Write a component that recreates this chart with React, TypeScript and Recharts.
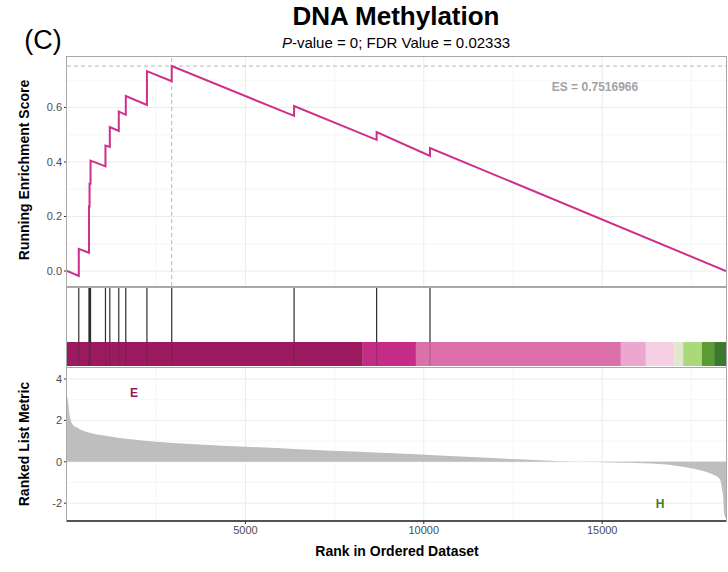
import {
  Area,
  AreaChart,
  CartesianGrid,
  ComposedChart,
  Line,
  LineChart,
  ReferenceArea,
  ReferenceLine,
  XAxis,
  YAxis,
} from "recharts";

const RANK_MAX = 18470;
const PEAK_RANK = 2935;
const ES_MAX = 0.7516966;

// gene-set hits in the ranked list, with running ES just before / after each hit
const hitRanks = [330, 616, 632, 660, 1078, 1200, 1451, 1648, 2240, 2935, 6364, 8678, 10174];
const esBeforeHit = [-0.018, 0.067, 0.237, 0.32, 0.384, 0.455, 0.514, 0.573, 0.609, 0.696, 0.569, 0.481, 0.422];
const esAfterHit = [0.081, 0.237, 0.32, 0.405, 0.46, 0.528, 0.585, 0.642, 0.733, 0.7517, 0.605, 0.51, 0.451];

// ranked list metric
const metricRanks = [
  1, 30, 80, 175, 260, 406, 540, 780, 910, 1250, 1714, 2500, 3711, 5020, 6513, 8000, 9314, 10300,
  11182, 12488, 13795, 14900, 15700, 16596, 17157, 17530, 17905, 18137, 18277, 18352, 18389, 18417, 18470,
];
const metricValues = [
  3.2, 2.9, 2.17, 1.77, 1.68, 1.53, 1.45, 1.34, 1.3, 1.21, 1.1, 0.97, 0.84, 0.73, 0.61, 0.5, 0.4, 0.32,
  0.24, 0.13, 0.03, -0.01, -0.05, -0.11, -0.21, -0.32, -0.48, -0.64, -0.8, -1.2, -1.69, -2.48, -2.75,
];

// colour band under the hits
const bandFrom = [0, 8290, 9780, 15524, 16224, 17017, 17269, 17792, 18137];
const bandTo = [8290, 9780, 15524, 16224, 17017, 17269, 17792, 18137, 18470];
const BAND_COLORS = ["#9B1A60", "#C42C86", "#DB70AA", "#EBA7CE", "#F7CFE5", "#E2E7CD", "#AAD87B", "#5C9A33", "#3B7A2C"];

const rankTicks = [5000, 10000, 15000];
const rankMinor = [2500, 7500, 12500, 17500];
const esTicks = [0, 0.2, 0.4, 0.6];
const esMinor = [0.1, 0.3, 0.5, 0.7];
const metricTicks = [-2, 0, 2, 4];
const metricMinor = [-1, 1, 3];

const esPoints = [{ rank: 0, es: 0 }];
hitRanks.forEach((r, i) => {
  esPoints.push({ rank: r, es: esBeforeHit[i] }, { rank: r, es: esAfterHit[i] });
});
esPoints.push({ rank: RANK_MAX, es: 0 });

const metricPoints = metricRanks.map((r, i) => ({ rank: r, metric: metricValues[i] }));
const hitPoints = [{ rank: 0, top: 1 }, ...hitRanks.map((r) => ({ rank: r, top: 1 })), { rank: RANK_MAX, top: 0 }];

const FONT = '"Liberation Sans", Arial, sans-serif';
const TICK = { fontSize: 11, fill: "#4D4D4D" };
const LINE_PINK = "#CF2F8B";

function Label({ x, y, size, bold = true, color = "#000", rotate = false, children }: any) {
  return (
    <div
      style={{
        position: "absolute",
        left: x - 200,
        top: y - 12,
        width: 400,
        height: 24,
        lineHeight: "24px",
        textAlign: "center",
        fontSize: size,
        fontWeight: bold ? 700 : 400,
        color,
        whiteSpace: "nowrap",
        transform: rotate ? "rotate(-90deg)" : undefined,
      }}
    >
      {children}
    </div>
  );
}

function Box({ left, top, width, height, noBottom = false }: any) {
  return (
    <div
      style={{
        position: "absolute",
        left,
        top,
        width,
        height,
        boxSizing: "border-box",
        border: "1px solid #A8A8A8",
        borderBottom: noBottom ? "none" : "1px solid #A8A8A8",
        pointerEvents: "none",
      }}
    />
  );
}

export default function App() {
  return (
    <div style={{ position: "absolute", left: 0, top: 0, width: 728, height: 572, background: "#fff", fontFamily: FONT }}>
      <Label x={396} y={16} size={26}>DNA Methylation</Label>
      <Label x={396} y={43} size={15} bold={false}>
        <i>P</i>-value = 0; FDR Value = 0.02333
      </Label>
      <Label x={43} y={40} size={27} bold={false}>(C)</Label>

      {/* running enrichment score */}
      <div style={{ position: "absolute", left: 0, top: 0 }}>
        <LineChart width={728} height={287} data={esPoints} margin={{ top: 57, right: 2, bottom: 1, left: 0 }}>
          <CartesianGrid stroke="#F1F1F1" strokeWidth={0.7} horizontalValues={esMinor} verticalValues={rankMinor} />
          <CartesianGrid stroke="#EBEBEB" strokeWidth={1} horizontalValues={esTicks} verticalValues={rankTicks} />
          <XAxis type="number" dataKey="rank" domain={[0, RANK_MAX]} hide allowDataOverflow />
          <YAxis
            type="number"
            domain={[-0.055, 0.785]}
            ticks={esTicks}
            width={67}
            allowDataOverflow
            tickFormatter={(v) => v.toFixed(1)}
            tick={TICK}
            tickSize={3}
            axisLine={false}
            tickLine={{ stroke: "#333" }}
          />
          <ReferenceLine y={ES_MAX} stroke="#B5B5B5" strokeDasharray="4 3" />
          <ReferenceLine x={PEAK_RANK} stroke="#B5B5B5" strokeDasharray="4 3" />
          <Line dataKey="es" type="linear" stroke={LINE_PINK} strokeWidth={2} dot={false} isAnimationActive={false} />
        </LineChart>
      </div>
      <Box left={66} top={56} width={661} height={231} />
      <Label x={595} y={87} size={12} color="#A3A3A3">ES = 0.7516966</Label>
      <Label x={24} y={170} size={14} rotate>Running Enrichment Score</Label>

      {/* hits + colour band */}
      <div style={{ position: "absolute", left: 0, top: 287 }}>
        <ComposedChart width={728} height={80} data={hitPoints} margin={{ top: 1, right: 2, bottom: 0, left: 67 }}>
          <XAxis type="number" dataKey="rank" domain={[0, RANK_MAX]} hide allowDataOverflow />
          <YAxis type="number" domain={[0, 1]} hide allowDataOverflow />
          {bandFrom.map((b, i) => (
            <ReferenceArea
              key={"b" + i}
              x1={b}
              x2={bandTo[i]}
              y1={0.013}
              y2={0.316}
              fill={BAND_COLORS[i]}
              fillOpacity={1}
              stroke="none"
              ifOverflow="visible"
            />
          ))}
          {hitRanks.map((r) => (
            <ReferenceLine
              key={"h" + r}
              segment={[{ x: r, y: 0.316 }, { x: r, y: 1 }]}
              stroke="#2E2E2E"
              strokeWidth={1.2}
              ifOverflow="visible"
            />
          ))}
          {hitRanks.map((r) => (
            <ReferenceLine
              key={"f" + r}
              segment={[{ x: r, y: 0.013 }, { x: r, y: 0.316 }]}
              stroke="#2E2E2E"
              strokeOpacity={0.25}
              strokeWidth={1.2}
              ifOverflow="visible"
            />
          ))}
          <Line dataKey="top" stroke="none" dot={false} isAnimationActive={false} />
        </ComposedChart>
      </div>
      <Box left={66} top={287} width={661} height={81} />

      {/* ranked list metric */}
      <div style={{ position: "absolute", left: 0, top: 367 }}>
        <AreaChart width={728} height={205} data={metricPoints} margin={{ top: 1, right: 2, bottom: 21, left: 0 }}>
          <CartesianGrid stroke="#F1F1F1" strokeWidth={0.7} horizontalValues={metricMinor} verticalValues={rankMinor} />
          <CartesianGrid stroke="#EBEBEB" strokeWidth={1} horizontalValues={metricTicks} verticalValues={rankTicks} />
          <XAxis
            type="number"
            dataKey="rank"
            domain={[0, RANK_MAX]}
            ticks={rankTicks}
            height={30}
            allowDataOverflow
            tick={TICK}
            tickSize={3}
            axisLine={{ stroke: "#1A1A1A", strokeWidth: 1.5 }}
            tickLine={{ stroke: "#333" }}
          />
          <YAxis
            type="number"
            domain={[-2.86, 4.53]}
            ticks={metricTicks}
            width={67}
            allowDataOverflow
            tick={TICK}
            tickSize={3}
            axisLine={false}
            tickLine={{ stroke: "#333" }}
          />
          <Area
            type="monotone"
            dataKey="metric"
            baseValue={0}
            fill="#BEBEBE"
            fillOpacity={1}
            stroke="none"
            isAnimationActive={false}
          />
        </AreaChart>
      </div>
      <Box left={66} top={367} width={661} height={155} noBottom />
      <Label x={134} y={393} size={12} color="#8E1B5E">E</Label>
      <Label x={660} y={504} size={12} color="#3F7F2A">H</Label>
      <Label x={24} y={444} size={14} rotate>Ranked List Metric</Label>
      <Label x={397} y={551} size={14}>Rank in Ordered Dataset</Label>
    </div>
  );
}
